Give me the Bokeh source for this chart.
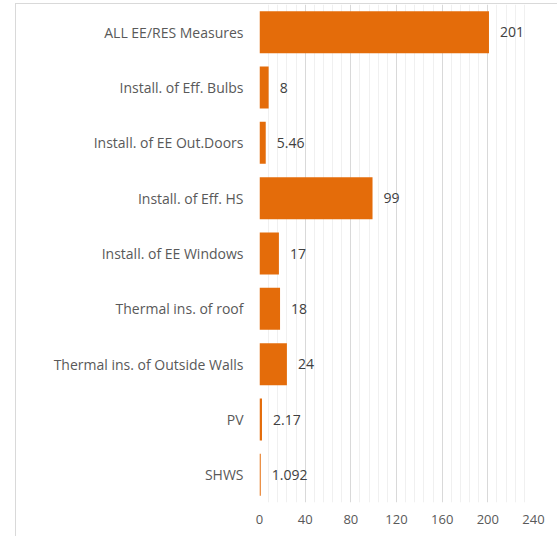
from bokeh.plotting import figure
from bokeh.models import ColumnDataSource, FactorRange, FixedTicker
from bokeh.core.properties import value
from bokeh.embed import file_html
from bokeh.resources import INLINE

categories = ["ALL EE/RES Measures", "Install. of Eff. Bulbs", "Install. of EE Out.Doors",
              "Install. of Eff. HS", "Install. of EE Windows", "Thermal ins. of roof",
              "Thermal ins. of Outside Walls", "PV", "SHWS"]
values = [201, 8, 5.46, 99, 17, 18, 24, 2.17, 1.092]
value_labels = ["201", "8", "5.46", "99", "17", "18", "24", "2.17", "1.092"]
x_ticks = [0, 40, 80, 120, 160, 200, 240]

FONT = "Open Sans"
BAR = "#E46C0A"

src = ColumnDataSource(dict(cat=categories, val=values, lab=value_labels))

p = figure(width=542, height=533, output_backend="svg", toolbar_location=None,
           y_range=FactorRange(factors=categories[::-1]), x_range=(0, 240),
           min_border_left=243, min_border_top=0, min_border_right=25, min_border_bottom=35)
p.styles = {"margin-left": "15px", "margin-top": "3px",
            "border-left": "1px solid #d9d9d9", "border-top": "1px solid #d9d9d9"}
p.outline_line_color = None
p.background_fill_color = "white"
p.border_fill_color = "white"

p.hbar(y="cat", right="val", left=0, height=0.76, source=src, color=BAR, line_color=None)
p.text(x="val", y="cat", text="lab", source=src, x_offset=11, text_baseline="middle",
       text_align="left", text_font=value(FONT), text_font_size="14px", text_color="#404040")

minor = [v for v in range(0, 241, 8) if v % 40 != 0]
p.xaxis.ticker = FixedTicker(ticks=x_ticks, minor_ticks=minor)
p.xgrid.grid_line_color = "#d9d9d9"
p.xgrid.minor_grid_line_color = "#f0f0f0"
p.ygrid.grid_line_color = None

for ax in (p.xaxis, p.yaxis):
    ax.axis_line_color = None
    ax.major_tick_line_color = None
    ax.minor_tick_line_color = None
    ax.major_tick_out = 0
    ax.minor_tick_out = 0
    ax.major_label_text_font = FONT
    ax.major_label_text_color = "#595959"
p.xaxis.major_label_text_font_size = "13px"
p.yaxis.major_label_text_font_size = "14px"
p.xaxis.major_label_standoff = 12
p.yaxis.major_label_standoff = 16

open("out.html", "w").write(file_html(p, INLINE))
